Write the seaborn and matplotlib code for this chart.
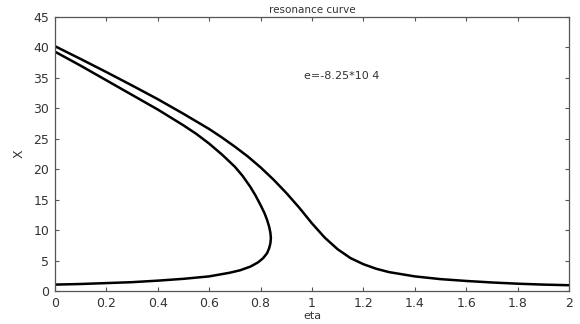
import matplotlib
matplotlib.use("Agg")
import matplotlib.pyplot as plt
import seaborn as sns
import pandas as pd

# Outer (upper-jump) branch
eta_outer = [0, 0.1, 0.2, 0.3, 0.4, 0.5, 0.6, 0.65, 0.7, 0.75, 0.8, 0.85, 0.9, 0.95, 1.0,
             1.05, 1.1, 1.15, 1.2, 1.25, 1.3, 1.4, 1.5, 1.6, 1.7, 1.8, 1.9, 2.0]
x_outer = [40.2, 38.1, 35.95, 33.75, 31.5, 29.1, 26.6, 25.2, 23.7, 22.1, 20.3, 18.3, 16.1, 13.7, 11.1,
           8.75, 6.85, 5.4, 4.4, 3.65, 3.1, 2.4, 1.95, 1.65, 1.4, 1.2, 1.05, 0.95]

# Inner (folded) branch
eta_inner = [0, 0.1, 0.2, 0.3, 0.4, 0.5, 0.55, 0.6, 0.65, 0.7, 0.73, 0.76, 0.78, 0.80, 0.815,
             0.825, 0.833, 0.838, 0.84, 0.838, 0.833, 0.825, 0.81, 0.79, 0.76, 0.72, 0.68,
             0.6, 0.5, 0.4, 0.3, 0.2, 0.1, 0]
x_inner = [39.3, 37.0, 34.6, 32.2, 29.8, 27.2, 25.8, 24.2, 22.4, 20.4, 18.9, 17.1, 15.7, 14.1, 12.8,
           11.7, 10.6, 9.6, 8.7, 7.8, 7.0, 6.2, 5.4, 4.7, 4.0, 3.4, 3.0,
           2.4, 2.0, 1.7, 1.45, 1.3, 1.15, 1.05]

x_ticks = [0, 0.2, 0.4, 0.6, 0.8, 1, 1.2, 1.4, 1.6, 1.8, 2]
x_tick_labels = ["0", "0.2", "0.4", "0.6", "0.8", "1", "1.2", "1.4", "1.6", "1.8", "2"]
y_ticks = [0, 5, 10, 15, 20, 25, 30, 35, 40, 45]

sns.set_style("white")
plt.rcParams['font.family'] = ['DejaVu Sans']

fig = plt.figure(figsize=(5.8, 3.24), dpi=100)
ax = fig.add_axes([55/580, 1 - 291/324, (569-55)/580, (291-17)/324])

df_o = pd.DataFrame({"eta": eta_outer, "X": x_outer})
df_i = pd.DataFrame({"eta": eta_inner, "X": x_inner})
sns.lineplot(data=df_o, x="eta", y="X", sort=False, color="black", lw=1.8, ax=ax, estimator=None)
sns.lineplot(data=df_i, x="eta", y="X", sort=False, color="black", lw=1.8, ax=ax, estimator=None)

ax.set_xlim(0, 2)
ax.set_ylim(0, 45)
ax.set_xticks(x_ticks)
ax.set_xticklabels(x_tick_labels)
ax.set_yticks(y_ticks)
ax.tick_params(direction="in", length=3, width=0.8, color="#555555",
               labelsize=9, labelcolor="#333333", top=True, right=True,
               bottom=True, left=True, pad=4)
for s in ax.spines.values():
    s.set_color("#555555")
    s.set_linewidth(0.9)

ax.set_xlabel("eta", fontsize=8, color="#333333", labelpad=1)
ax.set_ylabel("X", fontsize=9, color="#333333", labelpad=6)
ax.set_title("resonance curve", fontsize=7.5, color="#333333", pad=3)
ax.text(0.97, 35.3, "e=-8.25*10 4", fontsize=8, color="#333333", va="center", ha="left")

fig.savefig("out.png", dpi=100)
